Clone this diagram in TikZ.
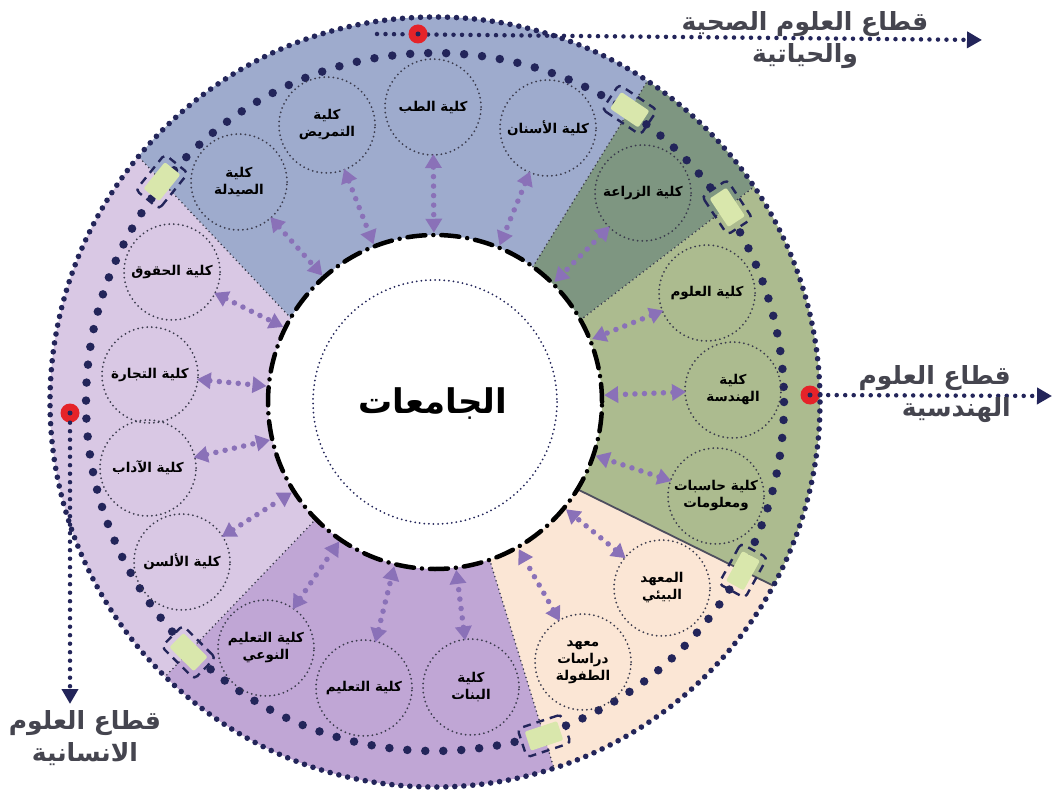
\documentclass[tikz,border=0pt]{standalone}
\usepackage{fontspec}
\usetikzlibrary{arrows.meta,calc}
\newfontfamily\arfont[Script=Arabic]{DejaVu Sans}
\TeXXeTstate=1
\newcommand{\artxt}[1]{\beginR #1\endR}
\definecolor{navy}{HTML}{23255A}
\definecolor{facdot}{HTML}{3A3A4C}
\definecolor{arrcol}{HTML}{8A71B8}
\definecolor{healthcol}{HTML}{9EABCD}
\definecolor{agricol}{HTML}{7E9681}
\definecolor{engcol}{HTML}{ACBB8F}
\definecolor{instcol}{HTML}{FBE6D5}
\definecolor{educol}{HTML}{C0A6D5}
\definecolor{humcol}{HTML}{D9C8E4}
\definecolor{gatecol}{HTML}{D9E7AC}
\definecolor{labcol}{HTML}{45454F}
\definecolor{redcol}{HTML}{E52329}
% fill of one sector of the ring: colour, inner angle 1, outer angle 1, inner angle 2, outer angle 2
\newcommand{\ringsector}[5]{%
  \fill[#1] ($(C)+(#2:\Ri)$) -- ($(C)+(#3:\Ro)$)
    arc[start angle=#3, end angle=#5, radius=\Ro]
    -- ($(C)+(#4:\Ri)$)
    arc[start angle=#4, end angle=#2, radius=\Ri] -- cycle;}
\begin{document}
\begin{tikzpicture}[x=1pt,y=-1pt,
  fac/.style={circle, minimum size=96pt, inner sep=0pt, draw=facdot,
    line width=2pt, dash pattern=on 0pt off 4.6pt, line cap=round,
    font=\arfont\bfseries\fontsize{13.5}{17}\selectfont, align=center},
  biarr/.style={draw=arrcol, line width=5.5pt, dash pattern=on 0pt off 9.5pt,
    line cap=round, {Triangle[length=14pt,width=16pt]}-{Triangle[length=14pt,width=16pt]}},
  bound/.style={draw=facdot, line width=1.8pt, dash pattern=on 0pt off 4.4pt, line cap=round},
  gatebox/.style={rectangle, minimum width=34pt, minimum height=20pt, inner sep=0pt,
    fill=gatecol, rounded corners=2pt},
  gateedge/.style={rectangle, minimum width=46pt, minimum height=30pt, inner sep=0pt,
    draw=navy, line width=2.4pt, dash pattern=on 8pt off 6pt, rounded corners=4pt},
  reddot/.style={circle, fill=redcol, minimum size=19pt, inner sep=0pt,
    path picture={\fill[navy] (path picture bounding box.center) circle (2.5pt);}},
  labline/.style={draw=navy, line width=4.5pt, dash pattern=on 0pt off 8.5pt, line cap=round,
    -{Triangle[length=15pt,width=16pt]}},
  lab/.style={font=\arfont\bfseries\fontsize{25}{32}\selectfont, text=labcol, inner sep=0pt}]

\fill[white] (0,0) rectangle (1059,791);
\useasboundingbox (0,0) rectangle (1059,791);

\def\Ri{167}
\def\Ro{385}
\coordinate (C) at (435,402);

% sector fills (angles measured clockwise from east)
\ringsector{healthcol}{-149.8}{-140.4}{-54.1}{-56.5}
\ringsector{agricol}{-54.1}{-56.5}{-29.4}{-34}
\ringsector{engcol}{-29.4}{-34}{31.5}{28.5}
\ringsector{instcol}{31.5}{28.5}{70.9}{72}
\ringsector{educol}{70.9}{72}{135.5}{134.5}
\ringsector{humcol}{135.5}{134.5}{210.2}{219.6}

% sector boundaries
\coordinate (b1i) at ($(C)+(-149.8:\Ri)$); \coordinate (b1o) at ($(C)+(-140.4:\Ro)$);
\coordinate (b2i) at ($(C)+(-54.1:\Ri)$);  \coordinate (b2o) at ($(C)+(-56.5:\Ro)$);
\coordinate (b3i) at ($(C)+(-29.4:\Ri)$);  \coordinate (b3o) at ($(C)+(-34:\Ro)$);
\coordinate (b4i) at ($(C)+(31.5:\Ri)$);   \coordinate (b4o) at ($(C)+(28.5:\Ro)$);
\coordinate (b5i) at ($(C)+(70.9:\Ri)$);   \coordinate (b5o) at ($(C)+(72:\Ro)$);
\coordinate (b6i) at ($(C)+(135.5:\Ri)$);  \coordinate (b6o) at ($(C)+(134.5:\Ro)$);
\draw[bound] (b1i) -- (b1o);
\draw[bound] (b2i) -- (b2o);
\draw[bound] (b3i) -- (b3o);
\draw[draw=facdot!90, line width=1.8pt] (b4i) -- (b4o);
\draw[bound] (b5i) -- (b5o);
\draw[bound] (b6i) -- (b6o);

% outer ring of small dots and the ring of large dots
\draw[navy, line width=5.6pt, dash pattern=on 0pt off 9pt, line cap=round] (C) circle[radius=\Ro];
\draw[navy, line width=8.5pt, dash pattern=on 0pt off 18pt, line cap=round] (C) circle[radius=349];

% gates on the sector boundaries
\foreach \b/\r/\n in {1/231.1/g1, 2/146/g2, 3/123.4/g3, 4/61.2/g4, 5/18.3/g5, 6/315.3/g6}{
  \node[gatebox, rotate=\r] (\n) at ($(b\b i)!0.845!(b\b o)$) {};
  \node[gateedge, rotate=\r] at (\n) {};
}

% the central ring
\node[circle, minimum size=334pt, inner sep=0pt, draw=black, line width=4.5pt,
  dash pattern=on 18pt off 8pt on 0pt off 8pt, line cap=round] (ring) at (C) {};
\draw[navy, line width=2pt, dash pattern=on 0pt off 4.6pt, line cap=round] (C) circle[radius=122];
\node[font=\arfont\bfseries\fontsize{34}{40}\selectfont] (uni) at ($(C)+(-2,2)$) {\artxt{الجامعات}};

% faculties and institutes
\node[fac] (saydala) at (239,182) {\artxt{كلية}\\\artxt{الصيدلة}};
\node[fac] (tamreed) at (327,125) {\artxt{كلية}\\\artxt{التمريض}};
\node[fac] (tebb)    at (433,107) {\artxt{كلية الطب}};
\node[fac] (asnan)   at (548,128) {\artxt{كلية الأسنان}};
\node[fac] (zeraa)   at (643,193) {\artxt{كلية الزراعة}};
\node[fac] (oloom)   at (707,293) {\artxt{كلية العلوم}};
\node[fac] (handasa) at (733,390) {\artxt{كلية}\\\artxt{الهندسة}};
\node[fac] (hasebat) at (716,496) {\artxt{كلية حاسبات}\\\artxt{ومعلومات}};
\node[fac] (beeai)   at (662,588) {\artxt{المعهد}\\\artxt{البيئي}};
\node[fac] (tofola)  at (583,662) {\artxt{معهد}\\\artxt{دراسات}\\\artxt{الطفولة}};
\node[fac] (banat)   at (471,687) {\artxt{كلية}\\\artxt{البنات}};
\node[fac] (taleem)  at (364,688) {\artxt{كلية التعليم}};
\node[fac] (nawee)   at (266,648) {\artxt{كلية التعليم}\\\artxt{النوعي}};
\node[fac] (alsun)   at (182,562) {\artxt{كلية الألسن}};
\node[fac] (adab)    at (148,468) {\artxt{كلية الآداب}};
\node[fac] (tegara)  at (150,375) {\artxt{كلية التجارة}};
\node[fac] (hoqooq)  at (172,272) {\artxt{كلية الحقوق}};

% links between each faculty and the central ring
\foreach \f in {saydala,tamreed,tebb,asnan,zeraa,oloom,handasa,hasebat,beeai,tofola,
                banat,taleem,nawee,alsun,adab,tegara,hoqooq}{
  \draw[biarr, shorten <=-2pt, shorten >=0pt] (\f) -- (ring);
}

% sector labels
\coordinate (tstart) at (377,34);
\coordinate (tend) at (982,40);
\draw[labline] (tstart) -- (tend);
\node[reddot] (rtop) at (418,34) {};
\node[lab, align=center] (labtop) at (805,40) {\artxt{قطاع العلوم الصحية}\\\artxt{والحياتية}};

\node[reddot] (rright) at (810,395) {};
\coordinate (rend) at (1052,396);
\draw[labline] (rright) -- (rend);
\node[lab, align=right, anchor=east] (labright) at (1011,394) {\artxt{قطاع العلوم}\\\artxt{الهندسية}};

\node[reddot] (rleft) at (70,413) {};
\coordinate (lend) at (70,704);
\draw[labline] (rleft) -- (lend);
\node[lab, align=center] (lableft) at (85,738) {\artxt{قطاع العلوم}\\\artxt{الانسانية}};
\end{tikzpicture}
\end{document}
